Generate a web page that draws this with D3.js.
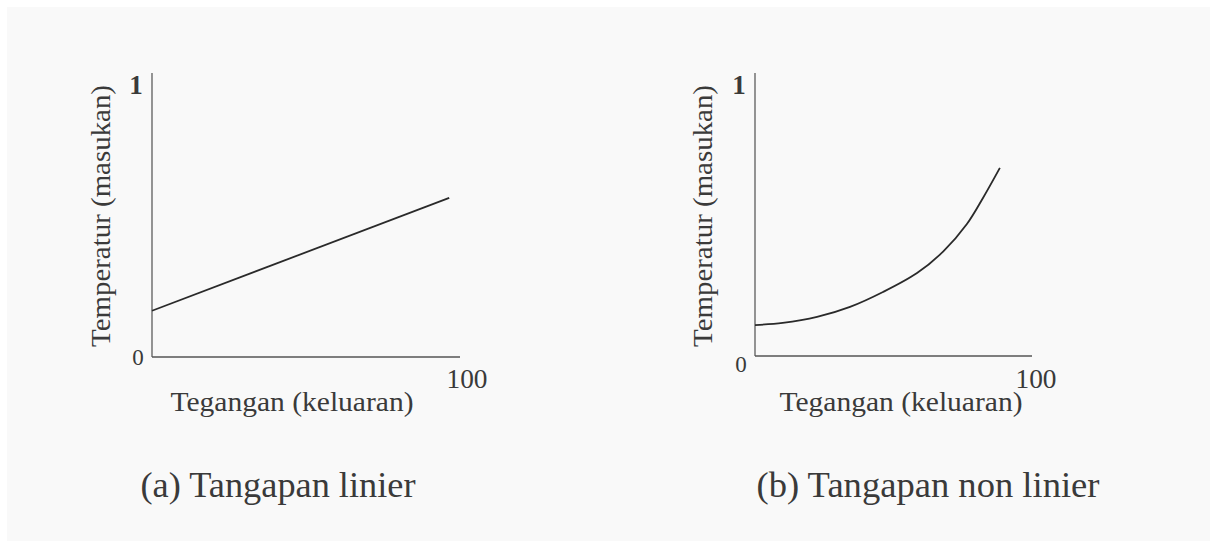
<!DOCTYPE html>
<html>
<head>
<meta charset="utf-8">
<script src="https://cdn.jsdelivr.net/npm/d3@7"></script>
<style>
  body { margin: 0; background: #ffffff; }
  svg text { font-family: "Liberation Serif", "DejaVu Serif", serif; fill: #3a3a3a; }
</style>
</head>
<body>
<svg id="chart" width="1210" height="541"></svg>
<script>
// values
const xDomain = [0, 100];
const yDomain = [0, 1];
const xTickLabels = ["0", "100"];
const yTickLabels = ["0", "1"];
const xTitle = "Tegangan (keluaran)";
const yTitle = "Temperatur (masukan)";
const captions = ["(a) Tangapan linier", "(b) Tangapan non linier"];

// (a) linear response
const linearX = [0, 96.5];
const linearY = [0.17, 0.585];
// (b) non-linear response
const curveX = [0, 10, 22.4, 34.3, 46.2, 58.5, 67.9, 76.5, 82.3, 88.4];
const curveY = [0.114, 0.122, 0.144, 0.181, 0.236, 0.306, 0.385, 0.487, 0.583, 0.694];

const svg = d3.select("svg#chart");

// faint grey page behind everything
svg.append("rect")
    .attr("x", 7).attr("y", 7)
    .attr("width", 1203).attr("height", 534)
    .attr("fill", "#f9f9f9");

function addText(g, str, x, y, size, width, anchor) {
    let t = g.append("text").text(str)
        .attr("x", x).attr("y", y)
        .attr("text-anchor", anchor || "middle")
        .style("font-size", size + "px");
    if (width) t.attr("textLength", width).attr("lengthAdjust", "spacingAndGlyphs");
    return t;
}

function drawPanel(opt, xs, ys, curve) {
    const g = svg.append("g");
    const x = d3.scaleLinear().domain(xDomain).range([opt.left, opt.right]);
    const y = d3.scaleLinear().domain(yDomain).range([opt.bottom, opt.top]);

    // axes as plain lines
    g.append("line")
        .attr("x1", opt.left).attr("x2", opt.left)
        .attr("y1", opt.axisTop).attr("y2", opt.bottom)
        .attr("stroke", "#7a7a7a").attr("stroke-width", 1.6);
    g.append("line")
        .attr("x1", opt.left).attr("x2", opt.axisRight)
        .attr("y1", opt.bottom).attr("y2", opt.bottom)
        .attr("stroke", "#555").attr("stroke-width", 1.6);

    // tick labels
    addText(g, yTickLabels[1], opt.left - 16, 94, 27)
        .style("font-weight", "bold");
    addText(g, yTickLabels[0], opt.left - 14, opt.zeroY, 23);
    addText(g, xTickLabels[1], opt.hundredX, 388, 28, 41);

    // axis titles
    addText(g, xTitle, opt.xTitleX, 411, 27, 243);
    g.append("text").text(yTitle)
        .attr("transform", `translate(${opt.yTitleX},216) rotate(-90)`)
        .attr("text-anchor", "middle")
        .attr("textLength", 262).attr("lengthAdjust", "spacingAndGlyphs")
        .style("font-size", "27px");

    // response line
    const line = d3.line()
        .x((d, i) => x(xs[i]))
        .y((d, i) => y(ys[i]))
        .curve(curve);
    g.append("path")
        .attr("d", line(xs))
        .attr("fill", "none")
        .attr("stroke", "#2a2a2a")
        .attr("stroke-width", 1.8);

    // caption
    addText(g, opt.caption, opt.captionX, 497, 36, opt.captionW);
}

drawPanel({ left: 152, right: 460, axisRight: 460, top: 85, axisTop: 73, bottom: 357,
    zeroY: 365, hundredX: 467, xTitleX: 292, yTitleX: 110,
    caption: captions[0], captionX: 278, captionW: 275 },
    linearX, linearY, d3.curveLinear);

drawPanel({ left: 755, right: 1032, axisRight: 1032, top: 85, axisTop: 73, bottom: 356,
    zeroY: 372, hundredX: 1036, xTitleX: 901, yTitleX: 712,
    caption: captions[1], captionX: 928, captionW: 343 },
    curveX, curveY, d3.curveCatmullRom);
</script>
</body>
</html>
